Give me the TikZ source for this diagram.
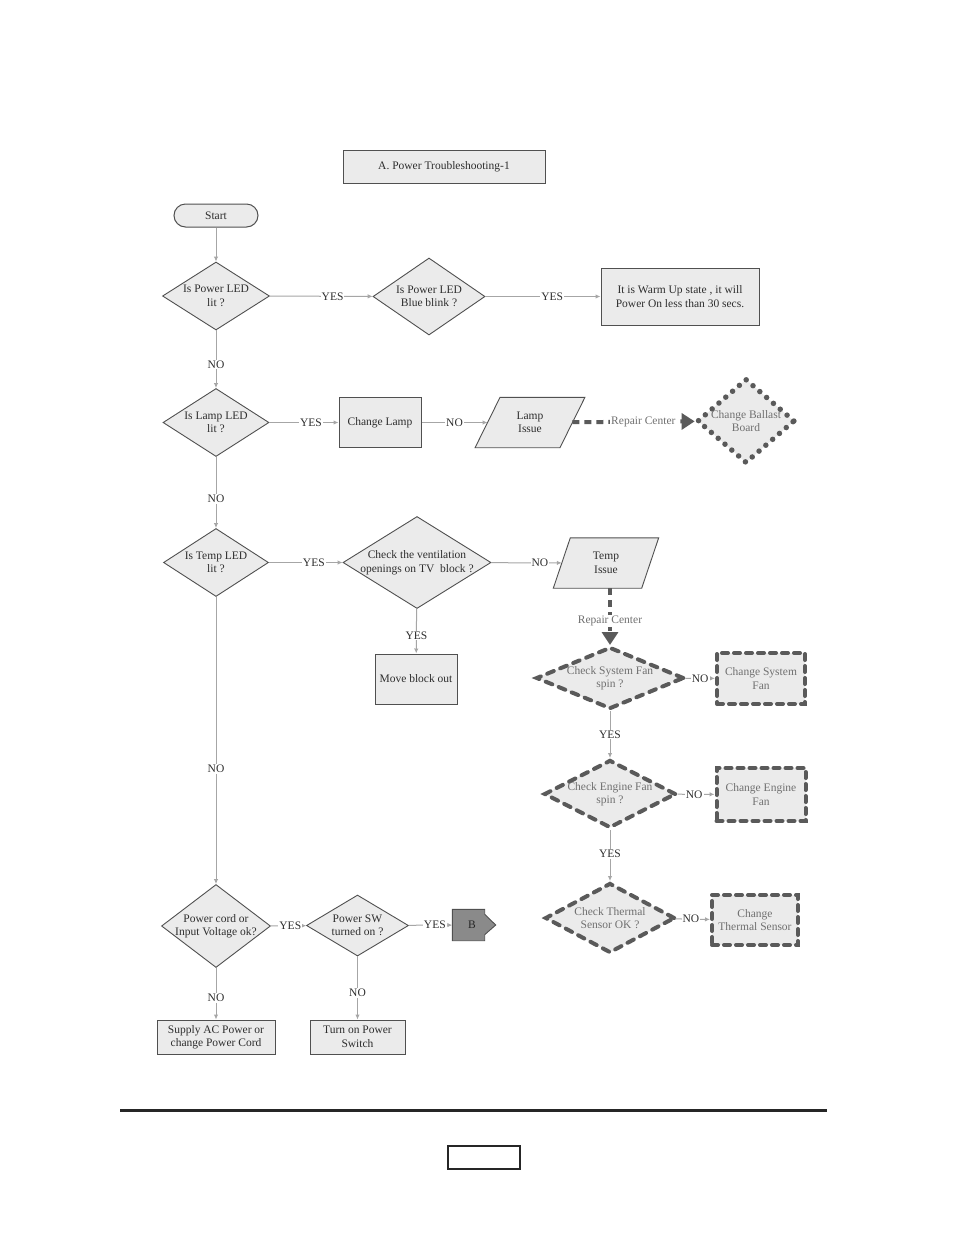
\documentclass[tikz,border=0pt]{standalone}
\usepackage{fontspec}
\setmainfont{Liberation Serif}
\usetikzlibrary{shapes.geometric,arrows.meta,backgrounds}
\definecolor{fillg}{HTML}{EBEBEB}
\definecolor{bord}{HTML}{505050}
\definecolor{lineg}{HTML}{A6A6A6}
\definecolor{txt}{HTML}{2E2E2E}
\definecolor{dk}{HTML}{5A5A5A}
\definecolor{ltxt}{HTML}{707070}
\definecolor{bfill}{HTML}{8A8A8A}
\newcommand{\fsz}{\fontsize{11.5}{13.5}\selectfont}
\begin{document}
\begin{tikzpicture}[x=1pt,y=-1pt,
  base/.style={font=\fsz, text=txt, align=center, inner sep=0pt},
  lbase/.style={font=\fsz, text=ltxt, align=center, inner sep=0pt},
  box/.style={base, rectangle, draw=bord, fill=fillg, line width=1pt},
  dia/.style={diamond, draw=bord, fill=fillg, line width=0.9pt, inner sep=0pt},
  dashdia/.style={diamond, draw=dk, fill=fillg, line width=4pt, inner sep=0pt, dash pattern=on 7pt off 7pt, line cap=round},
  dotdia/.style={diamond, draw=dk, fill=fillg, line width=5.5pt, inner sep=0pt, dash pattern=on 0pt off 9pt, line cap=round},
  dashbox/.style={lbase, rectangle, draw=dk, fill=fillg, line width=4pt, dash pattern=on 6pt off 6pt, line cap=round},
  para/.style={base, rectangle, minimum height=50pt},
  conn/.style={draw=lineg, line width=1pt, -{Latex[length=5pt,width=4.5pt]}},
  thickconn/.style={draw=dk, line width=4pt, dash pattern=on 7pt off 5pt, -{Triangle[length=13pt,width=16pt]}},
  lab/.style={fill=white, inner sep=1pt, font=\fsz, text=txt},
  llab/.style={fill=white, inner sep=1pt, font=\fsz, text=ltxt}
]
\useasboundingbox (0,0) rectangle (954,1235);
\begin{scope}[on background layer]
  \fill[white] (0,0) rectangle (954,1235);
\end{scope}

% title and start
\node[box, minimum width=202pt, minimum height=33pt] (title) at (444,166.5) {A. Power Troubleshooting-1};
\node[box, rounded corners=11.5pt, minimum width=84pt, minimum height=23pt] (start) at (216,215.5) {Start};

% row 1
\node[dia, minimum width=107pt, minimum height=68pt, label={[base]center:{Is Power LED\\lit ?}}] (d1) at (216,296) {};
\node[dia, minimum width=112pt, minimum height=77pt, label={[base]center:{Is Power LED\\Blue blink ?}}] (d2) at (429,296.5) {};
\node[box, minimum width=158pt, minimum height=57pt] (warm) at (680,296.5) {It is Warm Up state , it will\\Power On less than 30 secs.};

% row 2
\node[dia, minimum width=106pt, minimum height=68pt, label={[base]center:{Is Lamp LED\\lit ?}}] (d3) at (216,422.5) {};
\node[box, minimum width=82pt, minimum height=50pt] (clamp) at (380,422.5) {Change Lamp};
\node[para, minimum width=84.5pt] (lissue) at (530,422.5) {Lamp\\Issue};
\node[dotdia, minimum width=98pt, minimum height=85pt, label={[lbase]center:{Change Ballast\\Board}}] (ballast) at (746,421) {};

% row 3
\node[dia, minimum width=105pt, minimum height=68pt, label={[base]center:{Is Temp LED\\lit ?}}] (d5) at (216,562.5) {};
\node[dia, minimum width=148pt, minimum height=92pt, label={[base]center:{Check the ventilation\\openings on TV\ \ block ?}}] (d6) at (417,562.5) {};
\node[para, minimum width=88pt] (tissue) at (606,563) {Temp\\Issue};
\node[box, minimum width=82pt, minimum height=50pt] (move) at (416,679) {Move block out};

% repair chain
\node[dashdia, minimum width=148pt, minimum height=62pt, label={[lbase]center:{Check System Fan\\spin ?}}] (d7) at (610,678) {};
\node[dashbox, minimum width=88pt, minimum height=51pt] (sysfan) at (761,678.5) {Change System\\Fan};
\node[dashdia, minimum width=132pt, minimum height=68pt, label={[lbase]center:{Check Engine Fan\\spin ?}}] (d8) at (610,794) {};
\node[dashbox, minimum width=89pt, minimum height=53pt] (engfan) at (761,794.5) {Change Engine\\Fan};
\node[dashdia, minimum width=130pt, minimum height=70pt, label={[lbase]center:{Check Thermal\\Sensor OK ?}}] (d9) at (610,918) {};
\node[dashbox, minimum width=86pt, minimum height=50pt] (thermal) at (755,920) {Change\\Thermal Sensor};

% bottom rows
\node[dia, minimum width=109pt, minimum height=83pt, label={[base]center:{Power cord or\\Input Voltage ok?}}] (d10) at (216,926) {};
\node[dia, minimum width=102pt, minimum height=61pt, label={[base]center:{Power SW\\turned on ?}}] (d11) at (357.5,925.5) {};
\node[base, rectangle, minimum width=33pt, minimum height=31pt] (bnode) at (469,925) {};
\node[box, minimum width=118pt, minimum height=34pt] (supply) at (216,1037) {Supply AC Power or\\change Power Cord};
\node[box, minimum width=95pt, minimum height=34pt] (turnon) at (357.5,1037) {Turn on Power\\Switch};

% parallelograms and B arrow shape (drawn behind their text)
\begin{scope}[on background layer]
  \draw[draw=bord, fill=fillg, line width=0.9pt]
    ([xshift=-12.5pt]lissue.south west) -- ([xshift=12.5pt]lissue.north west)
    -- ([xshift=12.5pt]lissue.north east) -- ([xshift=-12.5pt]lissue.south east) -- cycle;
  \draw[draw=bord, fill=fillg, line width=0.9pt]
    ([xshift=-8.5pt]tissue.south west) -- ([xshift=8.5pt]tissue.north west)
    -- ([xshift=8.5pt]tissue.north east) -- ([xshift=-8.5pt]tissue.south east) -- cycle;
  \draw[draw=bord, fill=bfill, line width=0.9pt]
    (bnode.south west) -- (bnode.north west) -- ([xshift=-1pt]bnode.north east)
    -- ([xshift=-1pt,yshift=-5pt]bnode.north east) -- ([xshift=10pt]bnode.east)
    -- ([xshift=-1pt,yshift=6pt]bnode.south east) -- ([xshift=-1pt]bnode.south east) -- cycle;
\end{scope}
\node[base, text=black!85] (btext) at (472,925) {B};

% connectors
\draw[conn] (start) -- (d1);
\draw[conn] (d1) -- node[lab, pos=0.61] {YES} (d2);
\draw[conn] (d2) -- node[lab, pos=0.58] {YES} (warm);
\draw[conn] (d1) -- node[lab, pos=0.59] {NO} (d3);
\draw[conn] (d3) -- node[lab, pos=0.6] {YES} (clamp);
\draw[conn] (clamp) -- node[lab, pos=0.5] {NO} (lissue);
\draw[thickconn] (lissue) -- node[llab, pos=0.58] {Repair Center} (ballast);
\draw[conn] (d3) -- node[lab, pos=0.59] {NO} (d5);
\draw[conn] (d5) -- node[lab, pos=0.61] {YES} (d6);
\draw[conn] (d6) -- node[lab, pos=0.69] {NO} (tissue);
\draw[conn] (d6) -- node[lab, pos=0.6] {YES} (move);
\draw[thickconn] (tissue.south -| d7.north) -- node[llab, pos=0.58] {Repair Center} (d7);
\draw[conn] (d7) -- node[lab, pos=0.5] {NO} (sysfan);
\draw[conn] (d7) -- node[lab, pos=0.5] {YES} (d8);
\draw[conn] (d8) -- node[lab, pos=0.45] {NO} (engfan);
\draw[conn] (d8) -- node[lab, pos=0.47] {YES} (d9);
\draw[conn] (d9) -- node[lab, pos=0.45] {NO} (thermal);
\draw[conn] (d5) -- node[lab, pos=0.6] {NO} (d10);
\draw[conn] (d10) -- node[lab, pos=0.55] {YES} (d11);
\draw[conn] (d11) -- node[lab, pos=0.6] {YES} (bnode);
\draw[conn] (d10) -- node[lab, pos=0.58] {NO} (supply);
\draw[conn] (d11) -- node[lab, pos=0.58] {NO} (turnon);

% footer
\draw[line width=3pt, black!85] (120,1110) -- (827,1110);
\draw[line width=1.5pt, black!85] (448,1146) rectangle (520,1169);
\end{tikzpicture}
\end{document}
